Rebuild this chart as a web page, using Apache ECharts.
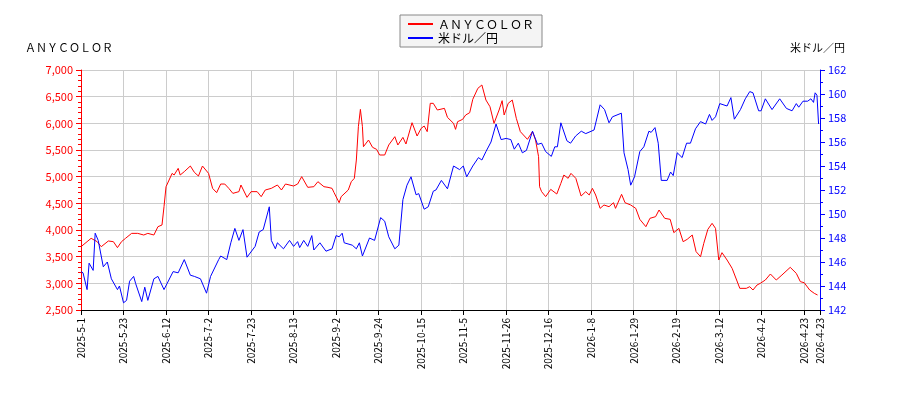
<!DOCTYPE html>
<html><head><meta charset="utf-8">
<script src="https://cdn.jsdelivr.net/npm/echarts@6/dist/echarts.min.js"></script>
<style>html,body{margin:0;padding:0;background:#fff}#c{width:900px;height:400px}</style>
</head><body><div id="c"></div>
<script>
const tickLabels=["2025-5-1","2025-5-23","2025-6-12","2025-7-2","2025-7-23","2025-8-13","2025-9-2","2025-9-24","2025-10-15","2025-11-5","2025-11-26","2025-12-16","2026-1-8","2026-1-29","2026-2-19","2026-3-12","2026-4-2","2026-4-23"];
// day offsets from 2025-5-1
const anyDays=[0,3,5,8,10,13.5,16,18,20,22,25,28,31,33,36,38,40,41,42,45,46,48,49,51,54,56,58,60,63,65,67,69,71,73,75,78,79,82,84,87,89,91,94,97,99,101,105,107,109,112,115,117,120,122,124,125,127.5,128.5,132,133.5,135,136,137,138,139,139.5,142,144,146,147.5,150,152,155,156.5,159,160.5,163.5,166,168,169.5,171,172.5,174,176,179.5,181,184,185,186,188.5,190,192,193.5,196,198,200,202,204,206.5,208,209,211,213,215,217,220.5,223,224.5,226,226.5,227.5,229.5,232,235,237,238.5,240.6,242,244.4,247,249.3,251,252.6,254.2,256.4,258.3,260.8,263,264,267,268.7,271.5,274,276,279,281,283.8,285.5,288.3,291,292.8,295.3,297.4,299.4,301.9,303.8,306,307.6,309.6,311.7,313.4,315,316.6,319.1,321.6,325.4,328.6,330.3,331.9,333.9,335.5,338,340.5,343.4,346.2,350.3,353.3,355.3,357.2,359.9,362.2,363.8];
const anyVals=[3687,3781,3844,3781,3687,3794,3781,3669,3781,3844,3937,3937,3906,3937,3906,4062,4094,4437,4812,5062,5031,5156,5031,5094,5200,5081,5012,5200,5062,4781,4700,4862,4862,4781,4687,4719,4844,4612,4719,4719,4625,4750,4781,4844,4750,4862,4825,4862,5000,4800,4812,4906,4812,4800,4781,4700,4512,4625,4750,4906,4969,5312,5937,6262,5937,5562,5687,5550,5512,5406,5406,5594,5750,5594,5737,5612,6012,5762,5906,5950,5844,6375,6375,6250,6281,6112,6000,5887,6031,6075,6156,6200,6450,6656,6719,6437,6312,6000,6250,6425,6156,6375,6437,6094,5844,5700,5844,5687,5375,4812,4719,4625,4762,4675,4875,5031,4969,5062,4969,4637,4719,4656,4781,4656,4406,4469,4437,4512,4406,4669,4512,4469,4406,4200,4062,4219,4250,4375,4219,4200,3950,4031,3781,3825,3906,3594,3500,3750,4012,4125,4031,3437,3575,3437,3281,2906,2906,2937,2875,2969,3000,3062,3175,3062,3156,3300,3187,3031,3012,2875,2812,2781];
const usdDays=[0,1,3,4,6,7,8.5,11,13,15,18,19,21,22.5,24,26,27,30,31.5,33,36,38,41,45.5,48,51,54,56,59,62,64,68,69,72,74,76,78,80,82,86,88,90,93,94,96,97,100,103,105,107,108,110,112,114,115,118,121,124,126,127.5,129,130,134,136,137.5,139,142.5,145,148,150,152,155,157,159,161,163,165.5,166.8,169.5,171.5,174,175.3,178,181,184,187,188.8,190.5,193.5,196.3,198,200,202.5,205,207.5,210,212.3,214,216,218,220,223,225.5,227.5,229.5,232.3,234,235.3,237,240,241.8,244.3,247.1,249.3,253.4,256.4,258.6,260.8,262.5,266.9,268.2,270.2,271.5,273.4,276,278,280.5,281.6,283.5,285.1,286.6,289.5,291.2,292.5,294.5,296.9,299.1,301,303.5,306,308.5,310.4,311.7,313.4,315.5,319.1,321,322.7,325.7,328.1,330.3,331.9,334.7,335.9,338,341.3,345.1,348.4,351.2,353.3,354.5,356.6,358.9,360.5,361.8,362.6,363.5,364.3];
const usdVals=[145.2,145.1,143.7,145.9,145.3,148.4,147.8,145.6,146.0,144.6,143.7,144.0,142.6,142.8,144.4,144.8,144.2,142.7,143.9,142.8,144.6,144.8,143.7,145.2,145.1,146.2,144.9,144.8,144.6,143.4,144.8,146.2,146.5,146.2,147.6,148.8,147.8,148.7,146.4,147.3,148.5,148.7,150.6,147.8,147.1,147.6,147.1,147.8,147.3,147.7,147.2,147.8,147.3,148.2,147.0,147.6,146.9,147.1,148.2,148.1,148.4,147.6,147.4,147.1,147.6,146.5,148.0,147.8,149.7,149.4,148.1,147.1,147.4,151.2,152.4,153.1,151.6,151.7,150.4,150.6,151.9,152.0,152.8,152.1,154.0,153.7,154.0,153.1,154.0,154.7,154.5,155.2,156.0,157.5,156.2,156.3,156.2,155.4,155.9,155.1,155.3,156.9,155.8,155.9,155.2,154.8,155.6,155.6,157.6,156.1,155.9,156.5,156.9,156.7,157.0,159.1,158.7,157.6,158.1,158.4,155.1,153.7,152.4,153.1,155.2,155.6,156.9,156.8,157.2,155.9,152.8,152.8,153.5,153.2,155.1,154.7,155.9,155.9,157.1,157.7,157.5,158.3,157.8,158.1,159.2,159.0,159.7,157.9,158.7,159.6,160.2,160.1,158.6,158.6,159.6,158.7,159.6,158.8,158.6,159.2,158.9,159.4,159.4,159.6,159.3,160.1,159.9,157.5];
const zip=(a,b)=>a.map((d,i)=>[d,b[i]]);
const chart=echarts.init(document.getElementById('c'));
const font='"Noto Sans CJK JP", sans-serif';
chart.setOption({
  animation:false,
  textStyle:{fontFamily:font},
  title:[{text:'ＡＮＹＣＯＬＯＲ',left:20,top:37,textStyle:{fontSize:11,fontWeight:'normal',color:'#000'}},
         {text:'米ドル／円',right:50,top:37,textStyle:{fontSize:11,fontWeight:'normal',color:'#000'}}],
  legend:{top:15,left:400,orient:'vertical',itemGap:2,itemWidth:25,itemHeight:2,borderColor:'#888',borderWidth:1,backgroundColor:'#f4f4f4',padding:[3,8],borderRadius:0,textStyle:{fontSize:12,color:'#000'},data:[{name:'ＡＮＹＣＯＬＯＲ',icon:'rect'},{name:'米ドル／円',icon:'rect'}]},
  grid:{left:81,right:80,top:70,bottom:90},
  xAxis:{type:'value',min:0,max:365,interval:21,
    axisLine:{lineStyle:{color:'#000'}},axisTick:{lineStyle:{color:'#000'}},
    splitLine:{lineStyle:{color:'#ccc'}},
    axisLabel:{rotate:90,fontSize:10,color:'#000',formatter:v=>tickLabels[Math.round(v/21)]||''}},
  yAxis:[{type:'value',min:2500,max:7000,interval:500,
    axisLine:{show:true,lineStyle:{color:'red'}},axisTick:{show:true,lineStyle:{color:'red'}},
    minorTick:{show:true,splitNumber:5,lineStyle:{color:'red'}},
    splitLine:{lineStyle:{color:'#ccc'}},axisLabel:{color:'red',fontSize:11}},
   {type:'value',min:142,max:162,interval:2,position:'right',
    axisLine:{show:true,lineStyle:{color:'blue'}},axisTick:{show:true,lineStyle:{color:'blue'}},
    minorTick:{show:true,splitNumber:2,lineStyle:{color:'blue'}},
    splitLine:{show:false},axisLabel:{color:'blue',fontSize:11}}],
  series:[{name:'ＡＮＹＣＯＬＯＲ',type:'line',yAxisIndex:0,showSymbol:false,color:'red',lineStyle:{width:1},data:zip(anyDays,anyVals)},
          {name:'米ドル／円',type:'line',yAxisIndex:1,showSymbol:false,color:'blue',lineStyle:{width:1},data:zip(usdDays,usdVals)}]
});
</script></body></html>
